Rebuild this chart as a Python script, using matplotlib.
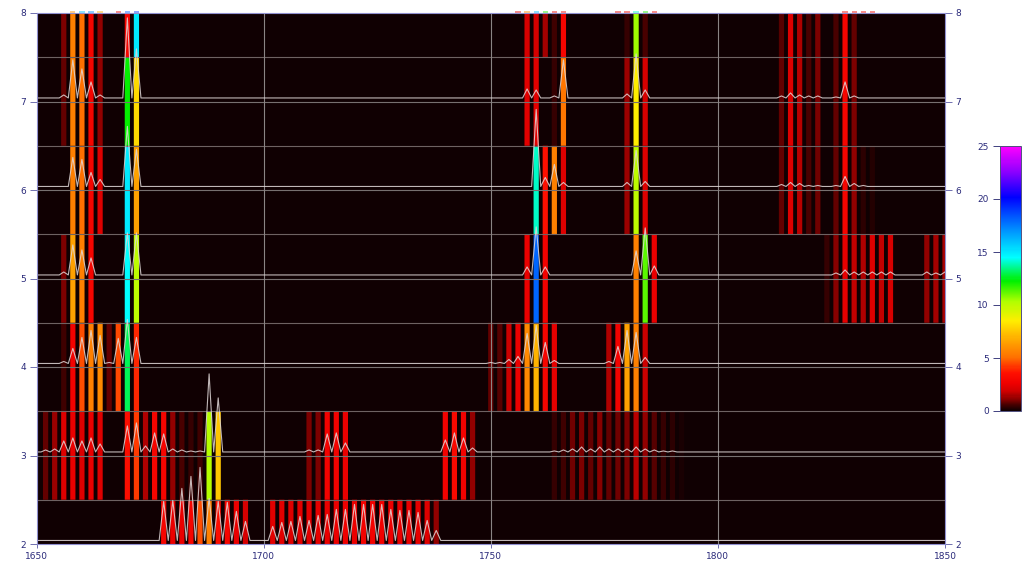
import numpy as np
import matplotlib
matplotlib.use('Agg')
import matplotlib.pyplot as plt
from matplotlib.colors import LinearSegmentedColormap, Normalize
from matplotlib.cm import ScalarMappable

# each row: bar positions, colour value of the band, height of the trace peak (pixels)
row8_x = [1656, 1658, 1660, 1662, 1664, 1670, 1672, 1758, 1760, 1762, 1764, 1766, 1780, 1782, 1784,
          1814, 1816, 1818, 1820, 1822, 1826, 1828, 1830]
row8_val = [1.0, 5.5, 5.0, 3.0, 1.2, 3.0, 15.0, 2.0, 2.0, 1.4, 0.5, 3.0, 0.4, 10.5, 0.6,
            0.7, 2.2, 1.5, 0.6, 1.0, 0.6, 3.0, 0.8]

row7_x = [1656, 1658, 1660, 1662, 1664, 1670, 1672, 1758, 1760, 1764, 1766, 1780, 1782, 1784,
          1814, 1816, 1818, 1820, 1822, 1826, 1828, 1830]
row7_val = [0.8, 5.5, 5.0, 3.0, 1.2, 12.3, 8.0, 2.3, 2.3, 0.4, 5.2, 1.3, 8.5, 2.0,
            0.8, 2.2, 1.6, 0.6, 1.0, 0.8, 3.0, 1.0]
row7_peak = [3, 38, 29, 16, 3, 80, 49, 9, 8, 2, 38, 4, 44, 8,
             2, 5, 3, 2, 2, 1, 16, 2]

row6_x = [1658, 1660, 1662, 1664, 1670, 1672, 1760, 1762, 1764, 1766, 1780, 1782, 1784,
          1814, 1816, 1818, 1820, 1822, 1826, 1828, 1830, 1832, 1834]
row6_val = [5.5, 5.0, 3.0, 2.2, 15.0, 6.5, 14.0, 3.6, 5.5, 2.2, 1.3, 10.0, 2.2,
            0.8, 2.2, 1.6, 0.6, 0.9, 0.8, 3.0, 1.2, 0.3, 0.2]
row6_peak = [29, 27, 14, 7, 60, 37, 77, 9, 22, 4, 4, 36, 5,
             2, 4, 3, 1, 1, 1, 10, 3, 1, 0]

row5_x = [1656, 1658, 1660, 1662, 1670, 1672, 1758, 1760, 1762, 1782, 1784, 1786,
          1824, 1826, 1828, 1830, 1832, 1834, 1836, 1838, 1846, 1848, 1850]
row5_val = [1.0, 6.5, 5.5, 3.0, 14.5, 10.0, 2.5, 18.0, 2.8, 5.5, 11.3, 2.5,
            0.4, 1.1, 2.4, 1.7, 1.5, 2.2, 1.7, 2.0, 1.2, 1.4, 1.4]
row5_peak = [3, 30, 25, 17, 42, 42, 8, 48, 8, 24, 47, 9,
             0, 2, 5, 3, 3, 3, 3, 3, 3, 2, 3]

row4_x = [1656, 1658, 1660, 1662, 1664, 1666, 1668, 1670, 1672,
          1750, 1752, 1754, 1756, 1758, 1760, 1762, 1764, 1776, 1778, 1780, 1782, 1784]
row4_val = [0.5, 2.8, 4.5, 5.5, 5.8, 0.8, 4.4, 13.0, 4.0,
            0.8, 0.7, 1.8, 2.5, 5.8, 7.0, 3.0, 2.4, 1.5, 2.8, 6.5, 5.5, 1.8]
row4_peak = [2, 15, 26, 33, 28, 1, 25, 44, 26,
             1, 1, 4, 7, 30, 38, 21, 3, 2, 17, 33, 31, 6]

row3_x = [1652, 1654, 1656, 1658, 1660, 1662, 1664, 1670, 1672, 1674, 1676, 1678, 1680, 1682, 1684, 1686, 1688, 1690,
          1710, 1712, 1714, 1716, 1718, 1740, 1742, 1744, 1746,
          1764, 1766, 1768, 1770, 1772, 1774, 1776, 1778, 1780, 1782, 1784, 1786, 1788, 1790, 1792]
row3_val = [0.8, 1.3, 2.2, 2.5, 2.2, 2.5, 2.2, 3.5, 4.2, 1.5, 3.0, 3.0, 1.2, 0.6, 0.4, 0.5, 10.2, 7.5,
            1.0, 1.0, 2.8, 2.8, 2.5, 2.8, 3.2, 2.8, 1.2,
            0.4, 0.5, 0.9, 1.0, 0.8, 1.1, 0.8, 0.9, 1.0, 1.6, 1.2, 0.7, 0.4, 0.3, 0.15]
row3_peak = [2, 3, 11, 14, 11, 14, 8, 26, 29, 6, 19, 18, 3, 2, 1, 1, 78, 54,
             2, 2, 18, 19, 9, 12, 19, 14, 4,
             1, 2, 3, 5, 3, 5, 3, 3, 3, 5, 3, 2, 1, 1, 0]

row2_x = [1678, 1680, 1682, 1684, 1686, 1688, 1690, 1692, 1694, 1696,
          1702, 1704, 1706, 1708, 1710, 1712, 1714, 1716, 1718, 1720, 1722, 1724, 1726, 1728, 1730, 1732, 1734, 1736, 1738]
row2_val = [3.0, 2.5, 2.5, 3.0, 4.5, 5.5, 3.5, 3.0, 2.5, 2.0,
            2.3, 2.3, 2.2, 2.3, 2.3, 2.4, 2.5, 2.5, 2.6, 2.5, 2.8, 2.8, 2.7, 2.6, 2.5, 2.5, 2.4, 2.2, 1.2]
row2_peak = [39, 40, 52, 64, 73, 42, 39, 38, 29, 19,
             14, 18, 19, 24, 20, 25, 26, 31, 31, 36, 36, 36, 36, 31, 30, 30, 28, 20, 10]

# faint marks of the next row just above the top edge
row9_x = [1658, 1660, 1662, 1664, 1668, 1670, 1672, 1756, 1758, 1760, 1762, 1764, 1766,
          1778, 1780, 1782, 1784, 1786, 1828, 1830, 1832, 1834]
row9_val = [6, 16, 17, 7, 3, 18, 19, 2.5, 6, 16, 12, 3, 3,
            2.5, 3, 14, 12, 3, 3, 3, 3, 3]

x_grid = np.arange(1650, 1851)
PX_PER_ROW = 88.4
BASE = 0.04

cmap = LinearSegmentedColormap.from_list('spectrum', [
    (0 / 25, '#100002'), (0.6 / 25, '#4a0000'), (1.0 / 25, '#800000'), (1.8 / 25, '#d00000'),
    (2.6 / 25, '#f00000'), (3.6 / 25, '#ff1000'), (5 / 25, '#ff7000'), (6.3 / 25, '#ff9a00'),
    (8.5 / 25, '#ffee00'), (10.3 / 25, '#b0ff00'), (12.3 / 25, '#00f000'), (14.5 / 25, '#00ffff'),
    (17.2 / 25, '#008cff'), (20.2 / 25, '#0000ff'), (22.6 / 25, '#8c00ff'), (25 / 25, '#ff00ff')])
norm = Normalize(0, 25)

# row number, band limits, positions, values, peaks
rows = [(2, 2.0, 2.5, row2_x, row2_val, row2_peak), (3, 2.5, 3.5, row3_x, row3_val, row3_peak),
        (4, 3.5, 4.5, row4_x, row4_val, row4_peak), (5, 4.5, 5.5, row5_x, row5_val, row5_peak),
        (6, 5.5, 6.5, row6_x, row6_val, row6_peak), (7, 6.5, 7.5, row7_x, row7_val, row7_peak),
        (8, 7.5, 8.0, row8_x, row8_val, None)]

fig = plt.figure(figsize=(10.24, 5.76), dpi=100)
ax = fig.add_axes([36.5 / 1024, 1 - 544 / 576, 908.5 / 1024, 531 / 576])
ax.set_facecolor('#100002')

for k, y0, y1, xs, vals, peaks in rows:
    bars = ax.bar(xs, y1 - y0, bottom=y0, width=1.15, color=cmap(norm(vals)), linewidth=0)
    for b in bars:
        b.set_snap(False)

ax.bar(row9_x, 0.02, bottom=8, width=1.15, color=cmap(norm(row9_val)), alpha=0.45, linewidth=0, clip_on=False)

for y in [2.5, 3.5, 4.5, 5.5, 6.5, 7.5]:
    ax.axhline(y, color='#6e6262', lw=0.8)
for y in [3, 4, 5, 6, 7]:
    ax.axhline(y, color='#777070', lw=0.8)
for x in [1700, 1750, 1800]:
    ax.axvline(x, color='#8a8484', lw=0.8)

# traces sit just above each integer row
for k, y0, y1, xs, vals, peaks in rows:
    if peaks is None:
        continue
    trace = np.zeros(len(x_grid))
    trace[np.array(xs) - 1650] = np.array(peaks) / PX_PER_ROW
    ax.plot(x_grid, k + BASE + trace, color='#e0d8d8', lw=0.8, alpha=0.85)

ax.set_xlim(1650, 1850)
ax.set_ylim(2, 8)
ax.set_xticks([1650, 1700, 1750, 1800, 1850])
ax.set_yticks([2, 3, 4, 5, 6, 7, 8])
ax.tick_params(axis='y', left=True, right=True, labelleft=True, labelright=True,
               length=5, width=0.7, labelsize=6.5, color='#7070b0', labelcolor='#2a2a7a', pad=2.5)
ax.tick_params(axis='x', length=3, width=0.7, labelsize=6.5, color='#7070b0', labelcolor='#2a2a7a', pad=3)
for s in ax.spines.values():
    s.set_color('#9090d0')
    s.set_linewidth(0.8)

cax = fig.add_axes([1000 / 1024, 1 - 411 / 576, 21 / 1024, 265 / 576])
cb = fig.colorbar(ScalarMappable(norm=norm, cmap=cmap), cax=cax)
cb.set_ticks([0, 5, 10, 15, 20, 25])
cax.yaxis.set_ticks_position('left')
cax.tick_params(length=5, width=0.7, labelsize=6.5, color='#404080', labelcolor='#2a2a7a', pad=3)
cb.outline.set_edgecolor('#505080')
cb.outline.set_linewidth(0.7)

fig.savefig('out.png', dpi=100)
